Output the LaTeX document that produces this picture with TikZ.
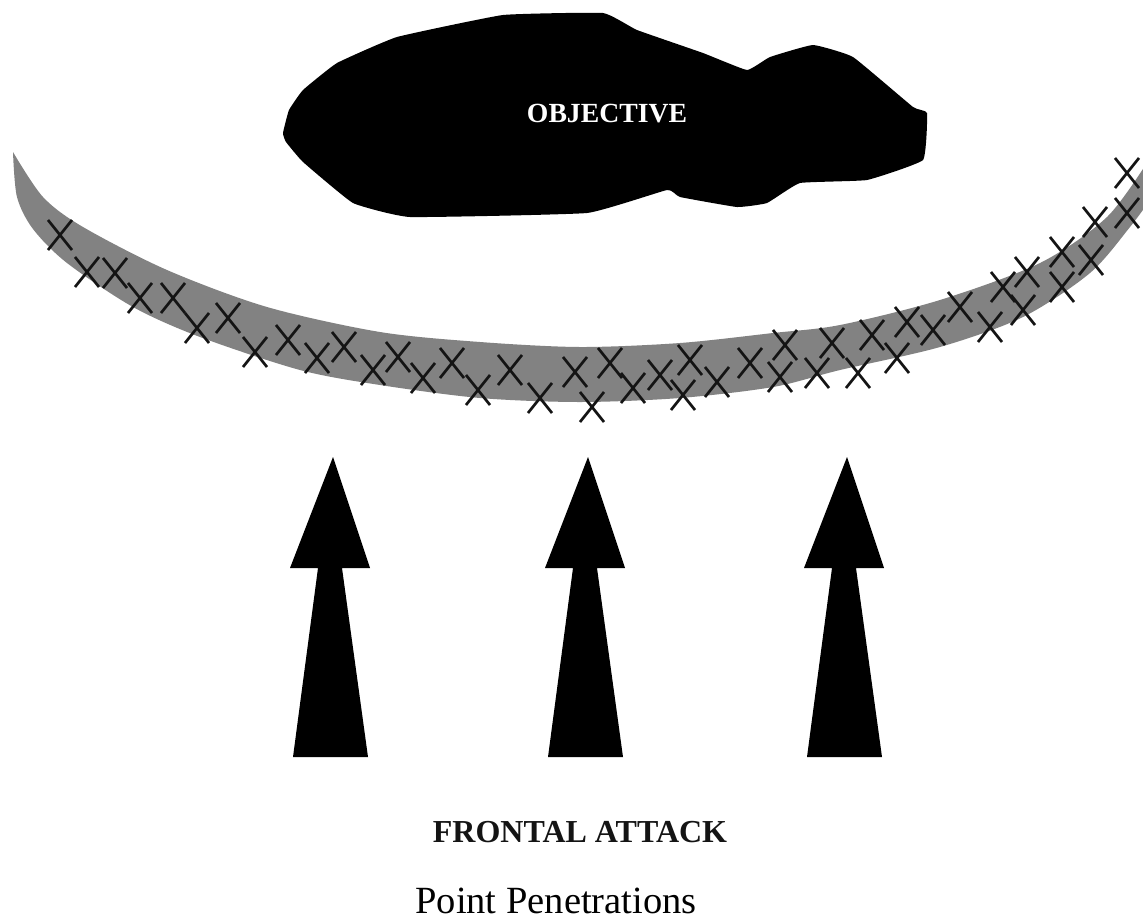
\documentclass[tikz,border=0pt]{standalone}
\usepackage{fontspec}
\setmainfont{Liberation Serif}
\definecolor{bandgray}{RGB}{130,130,130}
\definecolor{inkdark}{RGB}{20,20,20}
\tikzset{
  xmark/.style={draw=inkdark, line width=2.7pt, line cap=butt},
  blob/.style={fill=black},
  band/.style={fill=bandgray},
  arrowshape/.style={fill=black},
  attack/.pic={
    % head and tapering shaft of one penetration arrow
    \path[arrowshape] (3,457) -- (40,568) -- (12,568) -- (38,757)
      -- (-37,757) -- (-12,568) -- (-40,568) -- cycle;
  }
}
\begin{document}
\begin{tikzpicture}[x=1pt,y=-1pt]
\useasboundingbox[fill=white] (0,0) rectangle (1143,922);

% the objective
\path[blob] plot[smooth cycle, tension=0.2] coordinates {
  (283,133) (289,110) (303,90) (337,63) (397,37) (503,15) (603,13)
  (637,30) (703,53) (747,70) (770,57) (813,45) (853,57) (913,107)
  (927,113) (923,160) (867,180) (800,183) (767,203) (737,207)
  (680,197) (667,190) (587,213) (410,217) (353,203) (303,162) (286,142)};
\node[text=white, font=\bfseries\fontsize{27.7}{30}\selectfont, inner sep=0pt, anchor=base]
  (objective) at (607,122) {OBJECTIVE};

% the defended line
\path[band] plot[smooth] coordinates {
  (13,152) (43,197) (83,227) (167,270) (267,307) (380,332) (480,342)
  (580,347) (680,343) (773,333) (840,325) (940,300) (1040,263)
  (1107,217) (1150,158)}
  -- plot[smooth] coordinates {
  (1150,200) (1130,227) (1090,273) (1023,317) (940,347) (840,370)
  (773,387) (680,398) (580,402) (480,398) (380,385) (300,370)
  (200,337) (133,307) (67,263) (33,229) (17,197) (13,152)} -- cycle;

% defensive positions along the line
\foreach \px/\py in {
  60/235, 87/272, 115/273, 140/298, 173/298, 197/328, 228/318, 255/352,
  288/340, 317/358, 344/347, 373/370, 398/357, 423/378, 452/363, 478/390,
  510/370, 540/398, 575/372, 592/407, 610/363, 633/388, 660/375, 683/395,
  690/360, 717/382, 750/363, 785/345, 780/377, 832/343, 817/373, 872/335,
  858/373, 907/322, 897/358, 933/330, 960/307, 990/327, 1003/287,
  1027/272, 1023/310, 1062/252, 1062/287, 1091/260, 1095/222, 1127/213,
  1127/173}{
  \draw[xmark] (\px-12,\py-15) -- (\px+12,\py+15)
               (\px-12,\py+15) -- (\px+12,\py-15);
}

% three attacking thrusts
\pic (left)   at (330,0) {attack};
\pic (middle) at (585,0) {attack};
\pic (right)  at (844,0) {attack};

\node[text=inkdark, font=\bfseries\fontsize{32}{34}\selectfont, inner sep=0pt, anchor=base]
  (frontal) at (580,842) {FRONTAL ATTACK};
\node[text=black, font=\fontsize{38.5}{42}\selectfont, inner sep=0pt, anchor=base]
  (caption) at (556,913) {Point Penetrations};
\end{tikzpicture}
\end{document}
